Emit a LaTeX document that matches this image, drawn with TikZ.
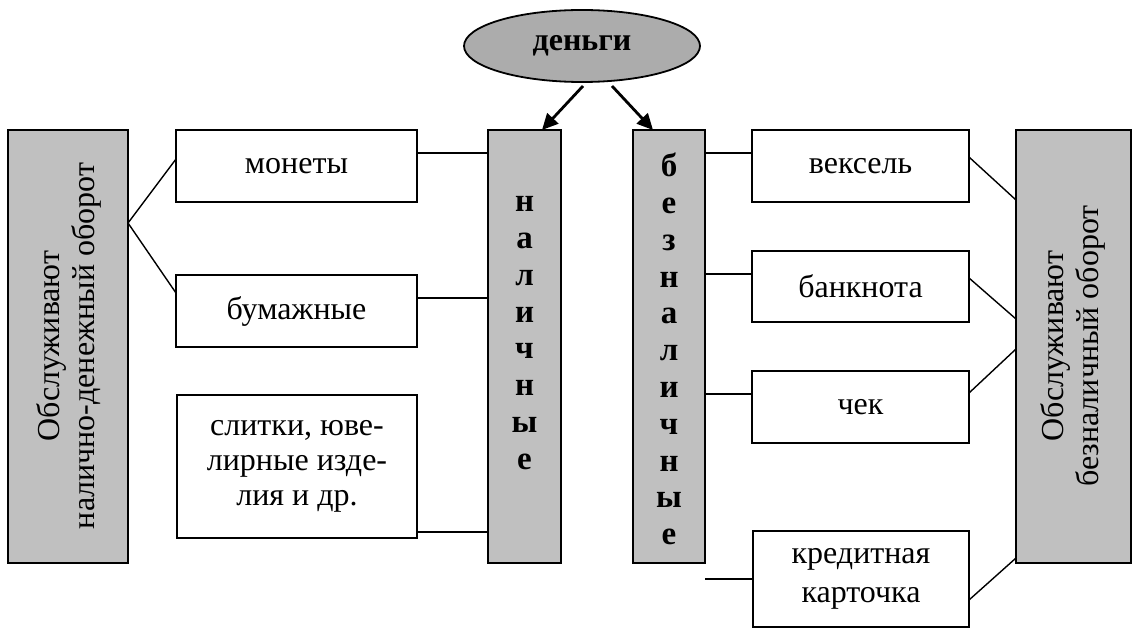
\documentclass[tikz,border=0pt]{standalone}
\usepackage{fontspec}
\setmainfont{Liberation Serif}
\usetikzlibrary{shapes.geometric,arrows.meta,calc}
\definecolor{boxgray}{RGB}{192,192,192}
\definecolor{ellgray}{RGB}{172,172,172}
\begin{document}
\begin{tikzpicture}[x=1pt,y=-1pt,
  every node/.style={font=\fontsize{32}{35}\selectfont, inner sep=0pt, outer sep=0pt},
  wbox/.style={draw, line width=1.8pt, fill=white, align=center},
  gbox/.style={draw, line width=1.8pt, fill=boxgray, align=center},
  coltext/.style={align=center, font=\bfseries\fontsize{33}{36.8}\selectfont},
  conn/.style={line width=1.4pt},
  arr/.style={line width=2.8pt, -{Triangle[length=16pt,width=15pt]}}]
\useasboundingbox (0,0) rectangle (1132,628);
\fill[white] (0,0) rectangle (1132,628);

% top ellipse
\node[ellipse, draw, line width=1.8pt, fill=ellgray, minimum width=236pt, minimum height=72pt,
      font=\bfseries\fontsize{32}{35}\selectfont] (E) at (582,46) {деньги};

% left gray box
\node[gbox, minimum width=120pt, minimum height=433pt] (L) at (68,346.5) {};
\node[rotate=90, align=center] (Ltxt) at (69,346) {Обслуживают\\налично-денежный оборот};

% right gray box
\node[gbox, minimum width=115pt, minimum height=433pt] (R) at (1073.5,346.5) {};
\node[rotate=90, align=center] (Rtxt) at (1073,346) {Обслуживают\\безналичный оборот};

% left white boxes
\node[wbox, minimum width=241pt, minimum height=72pt] (mon) at (296.5,166) {монеты};
\node[wbox, minimum width=241pt, minimum height=72pt] (bum) at (296.5,311) {бумажные};
\node[wbox, minimum width=240pt, minimum height=143pt] (sli) at (297,466.5) {слитки, юве-\\лирные изде-\\лия и др.};

% middle columns
\node[gbox, minimum width=73pt, minimum height=433pt] (nal) at (524.5,346.5) {};
\node[coltext] (naltxt) at (524.5,333) {н\\а\\л\\и\\ч\\н\\ы\\е};
\node[gbox, minimum width=72pt, minimum height=433pt] (bez) at (669,346.5) {};
\node[coltext] (beztxt) at (669,349) {б\\е\\з\\н\\а\\л\\и\\ч\\н\\ы\\е};

% right white boxes
\node[wbox, minimum width=217pt, minimum height=72pt] (vek) at (860.5,166) {вексель};
\node[wbox, minimum width=217pt, minimum height=71pt] (ban) at (860.5,286.5) {банкнота};
\node[wbox, minimum width=217pt, minimum height=72pt] (chk) at (860.5,407) {чек};
\node[wbox, minimum width=216pt, minimum height=96pt] (kre) at (861,579) {кредитная\\[4pt]карточка};

% arrows
\draw[arr] ($(E.south)+(1pt,-4pt)$) -- ($(nal.north)+(17.5pt,0pt)$);
\draw[arr] ($(E.south)+(30pt,-4pt)$) -- ($(bez.north)+(-16pt,0pt)$);

% left fan
\coordinate (Lp) at ($(L.east)+(0,123.5pt)$);
\draw[conn] ($(mon.west)+(0,7pt)$) -- (Lp) -- ($(bum.west)+(0,18pt)$);

% left boxes to nal
\coordinate (m1) at ($(mon.east)+(0,13pt)$);
\coordinate (b1) at ($(bum.east)+(0,13pt)$);
\coordinate (s1) at ($(sli.east)+(0,-65.5pt)$);
\draw[conn] (m1) -- (m1 -| nal.west);
\draw[conn] (b1) -- (b1 -| nal.west);
\draw[conn] (s1) -- (s1 -| nal.west);

% bez to right boxes
\coordinate (v1) at ($(vek.west)+(0,13pt)$);
\coordinate (n1) at ($(ban.west)+(0,12.5pt)$);
\coordinate (c1) at ($(chk.west)+(0,13pt)$);
\draw[conn] (v1 -| bez.east) -- (v1);
\draw[conn] (n1 -| bez.east) -- (n1);
\draw[conn] (c1 -| bez.east) -- (c1);
\draw[conn] (kre.west -| bez.east) -- (kre.west);

% right fans
\draw[conn] ($(vek.east)+(0,9pt)$) -- ($(R.west)+(0,146.5pt)$);
\draw[conn] ($(ban.east)+(0,8.5pt)$) -- ($(R.west)+(0,27.5pt)$);
\draw[conn] ($(chk.east)+(0,14pt)$) -- ($(R.west)+(0,-2.5pt)$);
\draw[conn] ($(kre.east)+(0,-21pt)$) -- ($(R.west)+(0,-211.5pt)$);
\end{tikzpicture}
\end{document}
